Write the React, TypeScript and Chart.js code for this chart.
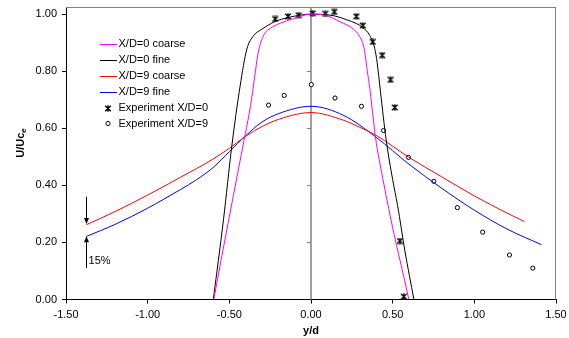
import { useEffect, useRef } from 'react';
import { Chart, registerables } from 'chart.js';

Chart.register(...registerables);

// ---- Data ----
const coarse0X = [-0.595, -0.55, -0.50, -0.45, -0.403, -0.37, -0.345, -0.325, -0.305, -0.28, -0.25, -0.19, -0.107, 0, 0.088, 0.18, 0.261, 0.30, 0.325, 0.345, 0.36, 0.372, 0.394, 0.445, 0.507, 0.568, 0.599];
const coarse0Y = [0, 0.14, 0.29, 0.44, 0.578, 0.68, 0.78, 0.86, 0.905, 0.935, 0.950, 0.968, 0.984, 1.0, 0.996, 0.973, 0.947, 0.92, 0.88, 0.80, 0.74, 0.68, 0.572, 0.408, 0.233, 0.080, 0];

const fine0X = [-0.598, -0.536, -0.485, -0.434, -0.393, -0.352, -0.301, -0.22, -0.14, -0.07, 0, 0.07, 0.143, 0.22, 0.278, 0.317, 0.36, 0.39, 0.405, 0.425, 0.46, 0.50, 0.53, 0.575, 0.63];
const fine0Y = [0, 0.279, 0.537, 0.748, 0.877, 0.924, 0.947, 0.974, 0.988, 0.996, 1.0, 0.999, 0.994, 0.98, 0.967, 0.953, 0.925, 0.88, 0.83, 0.73, 0.56, 0.42, 0.33, 0.17, 0];

const coarse9X = [-1.375, -1.2, -1.0, -0.8, -0.6, -0.5, -0.4, -0.3, -0.2, 0, 0.2, 0.3, 0.4, 0.6, 0.8, 1.0, 1.2, 1.307];
const coarse9Y = [0.262, 0.308, 0.366, 0.428, 0.492, 0.53, 0.572, 0.606, 0.631, 0.655, 0.628, 0.603, 0.575, 0.498, 0.43, 0.363, 0.303, 0.273];

const fine9X = [-1.375, -1.2, -1.0, -0.9, -0.8, -0.7, -0.6, -0.5, -0.4, -0.3, -0.2, 0, 0.2, 0.4, 0.6, 0.8, 1.0, 1.2, 1.411];
const fine9Y = [0.221, 0.263, 0.32, 0.352, 0.385, 0.42, 0.462, 0.518, 0.574, 0.622, 0.651, 0.677, 0.645, 0.568, 0.474, 0.39, 0.313, 0.247, 0.192];

const exp0X = [-0.219, -0.141, -0.076, 0.01, 0.088, 0.143, 0.278, 0.317, 0.378, 0.436, 0.487, 0.513, 0.544, 0.568];
const exp0Y = [0.983, 0.992, 0.996, 1.003, 1.001, 1.008, 0.992, 0.96, 0.903, 0.856, 0.770, 0.673, 0.205, 0.01];

const exp9X = [-0.260, -0.164, 0.002, 0.147, 0.309, 0.444, 0.597, 0.752, 0.896, 1.051, 1.215, 1.358];
const exp9Y = [0.681, 0.715, 0.753, 0.706, 0.677, 0.592, 0.498, 0.414, 0.322, 0.236, 0.156, 0.110];

const seriesLabels = ['X/D=0 coarse', 'X/D=0 fine', 'X/D=9 coarse', 'X/D=9 fine', 'Experiment X/D=0', 'Experiment X/D=9'];

const xTicks = [-1.5, -1.0, -0.5, 0, 0.5, 1.0, 1.5];
const yTicks = [0, 0.2, 0.4, 0.6, 0.8, 1.0];

// annotation (data coordinates)
const arrowX = -1.375;
const arrowDown = [0.36, 0.265];
const arrowUp = [0.11, 0.222];
const noteText = '15%';
const noteAt = [-1.362, 0.135];

const FONT = "'Liberation Sans', Arial, sans-serif";

const pts = (xs: number[], ys: number[]) => xs.map((x, i) => ({ x, y: ys[i] }));

function makeStar(): HTMLCanvasElement {
  const c = document.createElement('canvas');
  c.width = 8;
  c.height = 7;
  const g = c.getContext('2d')!;
  g.strokeStyle = '#000';
  g.lineWidth = 1.4;
  g.beginPath();
  g.moveTo(1.2, 0.8); g.lineTo(6.8, 6.2);
  g.moveTo(6.8, 0.8); g.lineTo(1.2, 6.2);
  g.moveTo(4, 0.3); g.lineTo(4, 6.7);
  g.stroke();
  return c;
}

export default function App() {
  const ref = useRef<HTMLCanvasElement>(null);

  useEffect(() => {
    const canvas = ref.current!;
    const star = makeStar();

    const framePlugin = {
      id: 'frame',
      beforeDatasetsDraw(chart: any) {
        const { ctx, chartArea: a, scales } = chart;
        ctx.save();
        ctx.strokeStyle = '#808080';
        ctx.lineWidth = 1;
        ctx.beginPath();
        ctx.moveTo(a.left, a.top + 0.5);
        ctx.lineTo(a.right, a.top + 0.5);
        ctx.moveTo(a.right - 0.5, a.top);
        ctx.lineTo(a.right - 0.5, a.bottom);
        ctx.stroke();
        // vertical line at x = 0 with ticks
        const x0 = scales.x.getPixelForValue(0);
        ctx.lineWidth = 1.5;
        ctx.beginPath();
        ctx.moveTo(x0, a.top);
        ctx.lineTo(x0, a.bottom);
        ctx.stroke();
        ctx.lineWidth = 1;
        ctx.beginPath();
        for (const v of yTicks.slice(1)) {
          const y = Math.round(scales.y.getPixelForValue(v)) + 0.5;
          ctx.moveTo(x0 - 4, y);
          ctx.lineTo(x0, y);
        }
        ctx.stroke();
        ctx.restore();
      },
      afterDraw(chart: any) {
        const { ctx, scales, data } = chart;
        const xs = scales.x, ys = scales.y;
        ctx.save();
        // y title with subscript
        ctx.translate(21, 143);
        ctx.rotate(-Math.PI / 2);
        ctx.fillStyle = '#000';
        ctx.textBaseline = 'middle';
        ctx.font = `bold 11px ${FONT}`;
        const main = 'U/Uc';
        const w1 = ctx.measureText(main).width;
        ctx.font = `bold 8px ${FONT}`;
        const w2 = ctx.measureText('e').width;
        const start = -(w1 + w2) / 2;
        ctx.font = `bold 11px ${FONT}`;
        ctx.textAlign = 'left';
        ctx.fillText(main, start, 0);
        ctx.font = `bold 8px ${FONT}`;
        ctx.fillText('e', start + w1, 3);
        ctx.restore();

        // arrows
        ctx.save();
        ctx.strokeStyle = '#000';
        ctx.fillStyle = '#000';
        ctx.lineWidth = 1;
        const ax = Math.round(xs.getPixelForValue(arrowX)) + 0.5;
        const drawArrow = (from: number, to: number) => {
          const y1 = ys.getPixelForValue(from);
          const y2 = ys.getPixelForValue(to);
          const dir = Math.sign(y2 - y1);
          ctx.beginPath();
          ctx.moveTo(ax, y1);
          ctx.lineTo(ax, y2 - dir * 5);
          ctx.stroke();
          ctx.beginPath();
          ctx.moveTo(ax, y2);
          ctx.lineTo(ax - 2.5, y2 - dir * 6);
          ctx.lineTo(ax + 2.5, y2 - dir * 6);
          ctx.closePath();
          ctx.fill();
        };
        drawArrow(arrowDown[0], arrowDown[1]);
        drawArrow(arrowUp[0], arrowUp[1]);
        ctx.font = `11px ${FONT}`;
        ctx.textAlign = 'left';
        ctx.textBaseline = 'middle';
        ctx.fillText(noteText, xs.getPixelForValue(noteAt[0]), ys.getPixelForValue(noteAt[1]));

        // legend
        const lx1 = 100, lx2 = 117, tx = 118.5, y0 = 43.5, dy = 16;
        ctx.font = `11px ${FONT}`;
        data.datasets.forEach((ds: any, i: number) => {
          const y = y0 + i * dy;
          if (ds.showLine) {
            ctx.strokeStyle = ds.borderColor;
            ctx.lineWidth = 1;
            ctx.beginPath();
            ctx.moveTo(lx1, Math.round(y) + 0.5);
            ctx.lineTo(lx2, Math.round(y) + 0.5);
            ctx.stroke();
          } else if (ds.pointStyle === 'circle') {
            ctx.strokeStyle = '#000';
            ctx.fillStyle = '#fff';
            ctx.lineWidth = 1;
            ctx.beginPath();
            ctx.arc(108, y, 2.1, 0, Math.PI * 2);
            ctx.fill();
            ctx.stroke();
          } else {
            ctx.drawImage(star, 104, Math.round(y) - 3);
          }
          ctx.fillStyle = '#000';
          ctx.fillText(ds.label, tx, y);
        });
        ctx.restore();
      },
    };

    const lineDs = (label: string, xs: number[], ys: number[], color: string) => ({
      label,
      data: pts(xs, ys),
      showLine: true,
      borderColor: color,
      backgroundColor: color,
      borderWidth: 1,
      pointRadius: 0,
      cubicInterpolationMode: 'monotone' as const,
    });

    const chart = new Chart(canvas, {
      type: 'scatter',
      data: {
        datasets: [
          lineDs(seriesLabels[0], coarse0X, coarse0Y, '#FF00FF'),
          lineDs(seriesLabels[1], fine0X, fine0Y, '#000000'),
          lineDs(seriesLabels[2], coarse9X, coarse9Y, '#FF0000'),
          lineDs(seriesLabels[3], fine9X, fine9Y, '#0000FF'),
          {
            label: seriesLabels[4],
            data: pts(exp0X, exp0Y),
            showLine: false,
            pointStyle: star as any,
            pointRadius: 4,
          },
          {
            label: seriesLabels[5],
            data: pts(exp9X, exp9Y),
            showLine: false,
            pointStyle: 'circle',
            pointRadius: 2.1,
            borderWidth: 1,
            borderColor: '#000',
            backgroundColor: '#fff',
          },
        ] as any,
      },
      options: {
        responsive: false,
        animation: false,
        events: [],
        layout: { padding: { top: 7, right: 13, left: 0, bottom: 0 } },
        plugins: {
          legend: { display: false },
          tooltip: { enabled: false },
        },
        scales: {
          x: {
            type: 'linear',
            min: -1.5,
            max: 1.5,
            ticks: {
              autoSkip: false,
              maxRotation: 0,
              padding: 5,
              color: '#000',
              font: { family: FONT, size: 11 },
              callback: (v: any) => Number(v).toFixed(2),
            },
            afterBuildTicks: (s: any) => { s.ticks = xTicks.map((value) => ({ value })); },
            grid: { display: true, drawOnChartArea: false, drawTicks: true, tickLength: 4, color: '#000' },
            border: { display: true, color: '#000', width: 1 },
            title: {
              display: true,
              text: 'y/d',
              color: '#000',
              font: { family: FONT, size: 11, weight: 'bold' },
              padding: { top: 0, bottom: 0 },
            },
            afterFit: (s: any) => { s.height = 38.5; s.paddingLeft = 0; s.paddingRight = 0; },
          },
          y: {
            type: 'linear',
            min: 0,
            max: 1.025,
            ticks: {
              padding: 5,
              color: '#000',
              font: { family: FONT, size: 11 },
              callback: (v: any) => Number(v).toFixed(2),
            },
            afterBuildTicks: (s: any) => { s.ticks = yTicks.map((value) => ({ value })); },
            grid: { display: true, drawOnChartArea: false, drawTicks: true, tickLength: 4, color: '#000' },
            border: { display: true, color: '#000', width: 1 },
            afterFit: (s: any) => { s.width = 66; s.paddingTop = 0; s.paddingBottom = 0; },
          },
        },
      } as any,
      plugins: [framePlugin],
    });
    return () => chart.destroy();
  }, []);

  return (
    <div style={{ position: 'fixed', left: 0, top: 0, width: 569, height: 338, background: '#fff' }}>
      <canvas ref={ref} width={569} height={338} style={{ width: 569, height: 338, display: 'block' }} />
    </div>
  );
}
